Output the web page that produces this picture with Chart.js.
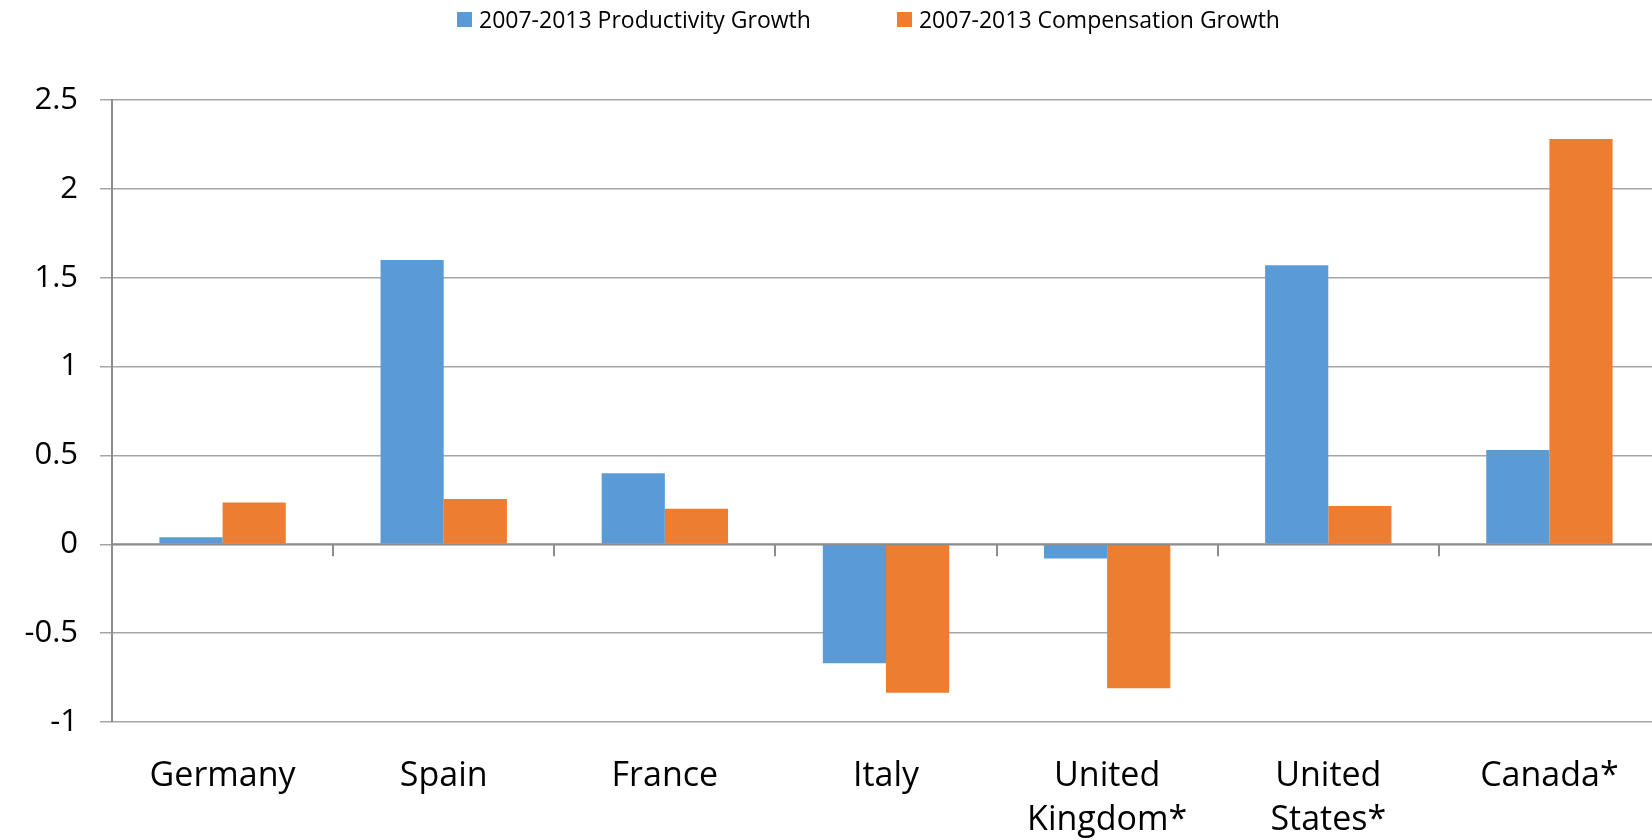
<!DOCTYPE html>
<html>
<head>
<meta charset="utf-8">
<script src="https://cdn.jsdelivr.net/npm/chart.js@4"></script>
<style>
  body { margin: 0; background: #fff; overflow: hidden; width: 1652px; height: 840px; }
  #wrap { position: relative; width: 1660px; height: 840px; }
  #legend { position: absolute; left: 457px; top: 3px; display: flex; align-items: center;
            font-family: "Open Sans", sans-serif; font-size: 23px; color: #000; white-space: nowrap; }
  #legend .item { display: flex; align-items: center; margin-right: 86px; }
  #legend .box { width: 15px; height: 15px; margin-right: 7px; }
</style>
</head>
<body>
<div id="wrap">
  <div id="legend"></div>
  <canvas id="myChart"></canvas>
</div>
<script>
// categories and series
const countries = ['Germany', 'Spain', 'France', 'Italy', ['United', 'Kingdom*'], ['United', 'States*'], 'Canada*'];
const productivity = [0.04, 1.6, 0.4, -0.67, -0.08, 1.57, 0.53];
const compensation = [0.235, 0.255, 0.2, -0.835, -0.81, 0.215, 2.28];
const seriesNames = ['2007-2013 Productivity Growth', '2007-2013 Compensation Growth'];
const seriesColors = ['#5b9bd5', '#ed7d31'];
const yMin = -1, yMax = 2.5, yStep = 0.5;

// legend (html, so the spacing can follow the original)
let legend = document.getElementById('legend');
for (let i = 0; i < seriesNames.length; i++) {
  legend.innerHTML += `<div class="item"><div class="box" style="background:${seriesColors[i]}"></div><span>${seriesNames[i]}</span></div>`;
}

// small tick marks under the zero line, between categories
const zeroTicks = {
  id: 'zeroTicks',
  afterDatasetsDraw(chart) {
    const x = chart.scales.x, y = chart.scales.y;
    const ctx = chart.ctx;
    const y0 = y.getPixelForValue(0);
    ctx.save();
    ctx.strokeStyle = '#8c8c8c';
    ctx.lineWidth = 2;
    ctx.beginPath();
    ctx.moveTo(chart.chartArea.left, y0);
    ctx.lineTo(chart.chartArea.right, y0);
    for (let i = 0; i <= countries.length; i++) {
      const px = Math.round(x.getPixelForValue(i - 0.5));
      ctx.moveTo(px, y0);
      ctx.lineTo(px, y0 + 12);
    }
    ctx.stroke();
    ctx.restore();
  }
};

const ctx = document.getElementById('myChart');

new Chart(ctx, {
  type: 'bar',
  data: {
    labels: countries,
    datasets: [{
      label: seriesNames[0],
      data: productivity,
      backgroundColor: seriesColors[0],
      borderWidth: 0,
    }, {
      label: seriesNames[1],
      data: compensation,
      backgroundColor: seriesColors[1],
      borderWidth: 0,
    }]
  },
  options: {
    responsive: true,
    maintainAspectRatio: false,
    animation: false,
    layout: {
      padding: { top: 100, left: 0, right: 0, bottom: 2 }
    },
    datasets: {
      bar: { categoryPercentage: 0.5714, barPercentage: 1.0 }
    },
    plugins: {
      legend: { display: false },
      tooltip: { enabled: false },
    },
    scales: {
      x: {
        afterFit(scale) { scale.height = 116; },
        grid: { display: false },
        border: { display: false },
        ticks: {
          color: '#000',
          padding: 24,
          maxRotation: 0,
          autoSkip: false,
          font: { family: 'Open Sans', size: 34, lineHeight: 1.3 },
        },
      },
      y: {
        min: yMin,
        max: yMax,
        afterFit(scale) { scale.width = 112; },
        ticks: {
          stepSize: yStep,
          color: '#000',
          padding: 22,
          font: { family: 'Open Sans', size: 31 },
          callback: (value) => String(Number(value)),
        },
        grid: {
          color: '#a6a6a6',
          lineWidth: 1.5,
          tickLength: 12,
        },
        border: { color: '#8c8c8c', width: 2 },
      },
    }
  },
  plugins: [zeroTicks]
});
</script>
</body>
</html>
